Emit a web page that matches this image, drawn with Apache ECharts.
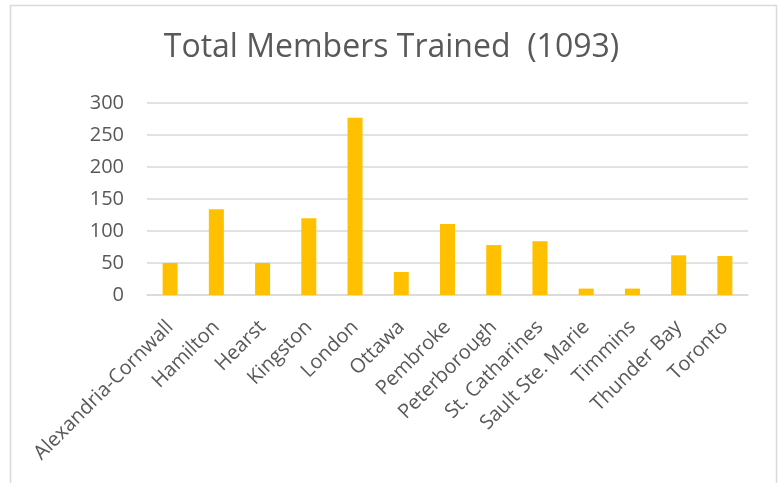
<!DOCTYPE html>
<html><head><meta charset="utf-8">
<script src="https://cdn.jsdelivr.net/npm/echarts@6/dist/echarts.min.js"></script>
<style>html,body{margin:0;padding:0;background:#fff}#c{width:783px;height:483px}</style>
</head><body><div id="c"></div>
<script>
const categories = ['Alexandria-Cornwall','Hamilton','Hearst','Kingston','London','Ottawa','Pembroke','Peterborough','St. Catharines','Sault Ste. Marie','Timmins','Thunder Bay','Toronto'];
const membersTrained = [50,134,50,120,277,36,111,78,84,10,10,62,61];
const titleText = 'Total Members Trained  (1093)';
const yTicks = [0,50,100,150,200,250,300];

const chart = echarts.init(document.getElementById('c'), null, {renderer:'canvas'});
chart.setOption({
  animation:false,
  backgroundColor:'#fff',
  graphic:[{type:'rect',shape:{x:10.5,y:5.5,width:766,height:500},style:{fill:'none',stroke:'#d9d9d9',lineWidth:1.5},silent:true}],
  title:{text:titleText,left:'center',top:27,textStyle:{fontFamily:'Open Sans',fontWeight:'normal',fontSize:32,color:'#595959'}},
  grid:{left:147,right:35,top:103,bottom:188,containLabel:false},
  xAxis:{type:'category',data:categories,
    axisLine:{lineStyle:{color:'#d9d9d9',width:1.5}},axisTick:{show:false},
    axisLabel:{interval:0,rotate:45,margin:29,fontFamily:'Open Sans',fontSize:20,color:'#595959'}},
  yAxis:{type:'value',min:yTicks[0],max:yTicks[yTicks.length-1],interval:50,
    axisLine:{show:false},axisTick:{show:false},
    splitLine:{lineStyle:{color:'#d9d9d9',width:1.5}},
    axisLabel:{margin:23,fontFamily:'Open Sans',fontSize:20,color:'#595959'}},
  series:[{type:'bar',data:membersTrained,barWidth:15,itemStyle:{color:'#FFC000'}}]
});
</script></body></html>
